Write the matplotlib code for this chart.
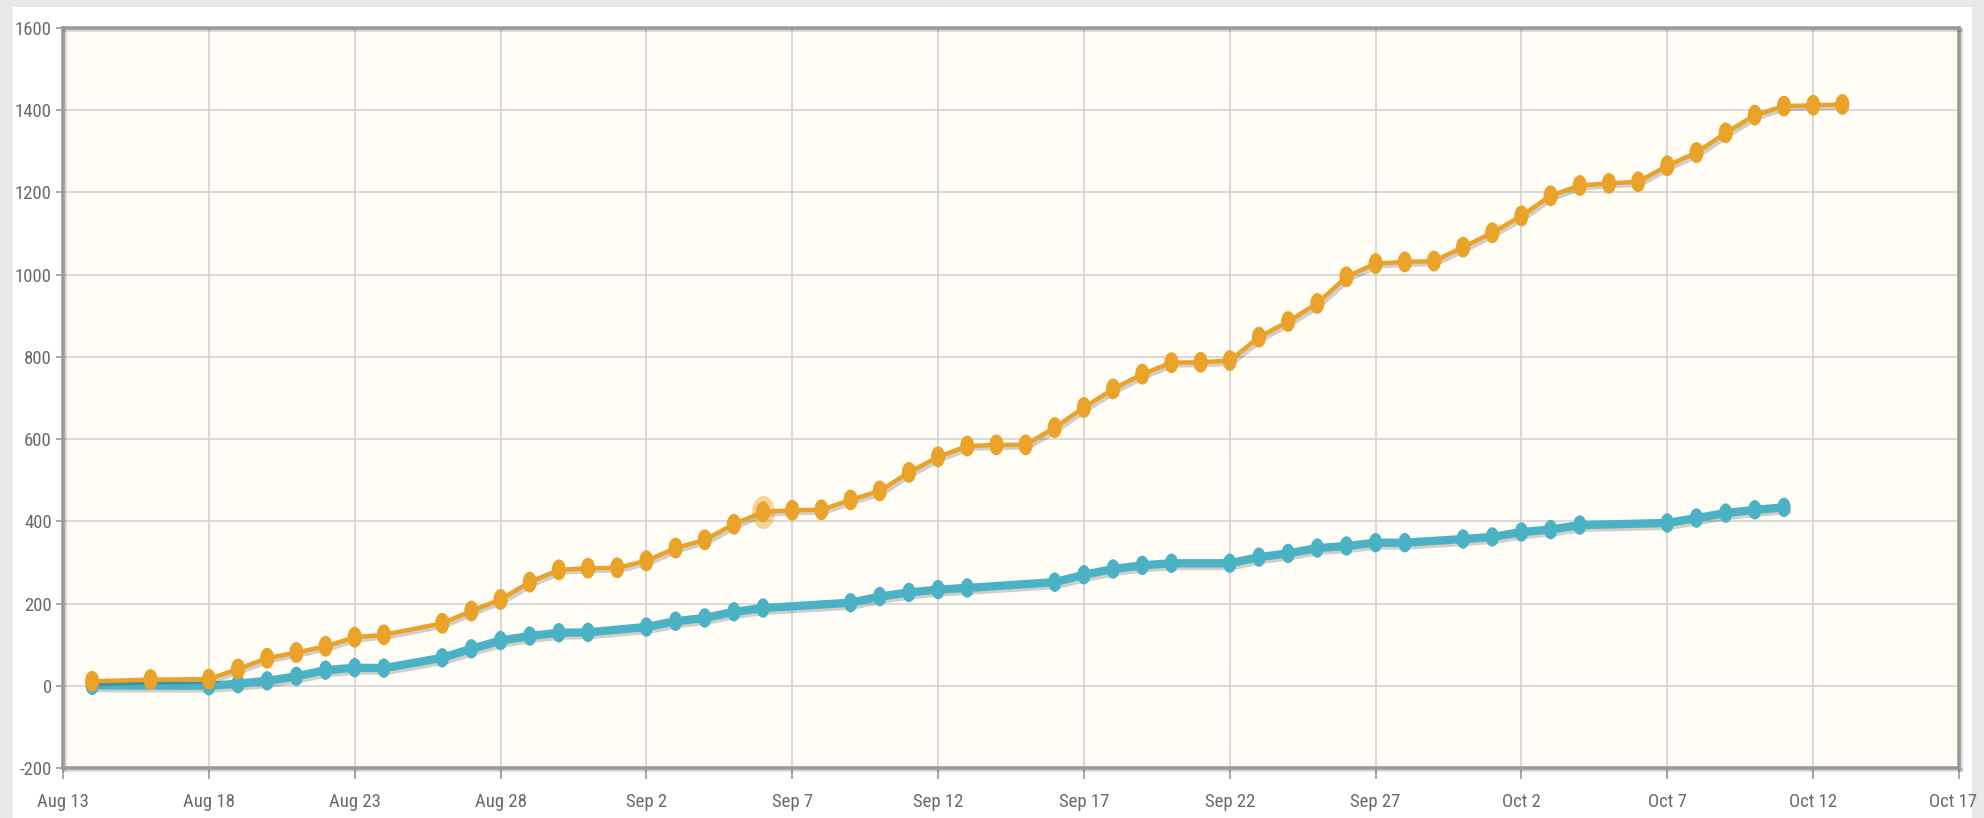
import matplotlib
matplotlib.use("Agg")
import matplotlib.pyplot as plt
import matplotlib.dates as mdates
import matplotlib.patheffects as pe
from matplotlib.path import Path
from matplotlib.patches import Rectangle
from matplotlib.transforms import Affine2D, ScaledTranslation
import numpy as np
import datetime as dt

YEAR = 2013

# ---------------- data ----------------
orange_dates = ["08-14", "08-16", "08-18", "08-19", "08-20", "08-21", "08-22", "08-23", "08-24",
                "08-26", "08-27", "08-28", "08-29", "08-30", "08-31",
                "09-01", "09-02", "09-03", "09-04", "09-05", "09-06", "09-07", "09-08", "09-09", "09-10",
                "09-11", "09-12", "09-13", "09-14", "09-15", "09-16", "09-17", "09-18", "09-19", "09-20",
                "09-21", "09-22", "09-23", "09-24", "09-25", "09-26", "09-27", "09-28", "09-29", "09-30",
                "10-01", "10-02", "10-03", "10-04", "10-05", "10-06", "10-07", "10-08", "10-09", "10-10",
                "10-11", "10-12", "10-13"]
orange_values = [11, 15, 16, 41, 67, 81, 96, 118, 124,
                 152, 182, 210, 252, 282, 286,
                 287, 304, 335, 355, 393, 423, 427, 428, 452, 474,
                 519, 557, 583, 586, 586, 628, 677, 722, 758, 786,
                 787, 791, 848, 886, 930, 995, 1027, 1031, 1033, 1067,
                 1102, 1143, 1192, 1217, 1222, 1226, 1265, 1297, 1345, 1388,
                 1410, 1412, 1414]

blue_dates = ["08-14", "08-18", "08-19", "08-20", "08-21", "08-22", "08-23", "08-24",
              "08-26", "08-27", "08-28", "08-29", "08-30", "08-31",
              "09-02", "09-03", "09-04", "09-05", "09-06", "09-09", "09-10", "09-11", "09-12", "09-13",
              "09-16", "09-17", "09-18", "09-19", "09-20", "09-22", "09-23", "09-24", "09-25", "09-26",
              "09-27", "09-28", "09-30",
              "10-01", "10-02", "10-03", "10-04", "10-07", "10-08", "10-09", "10-10", "10-11"]
blue_values = [1, 0, 5, 12, 23, 38, 44, 43,
               68, 90, 110, 121, 129, 130,
               143, 157, 165, 180, 189, 202, 217, 227, 234, 238,
               252, 270, 284, 293, 298, 298, 313, 322, 335, 340,
               348, 348, 357,
               362, 374, 380, 391, 396, 408, 420, 428, 434]

highlight_index = 20  # orange point on Sep 6

x_tick_dates = ["08-13", "08-18", "08-23", "08-28", "09-02", "09-07", "09-12", "09-17",
                "09-22", "09-27", "10-02", "10-07", "10-12", "10-17"]
x_tick_labels = ["Aug 13", "Aug 18", "Aug 23", "Aug 28", "Sep 2", "Sep 7", "Sep 12", "Sep 17",
                 "Sep 22", "Sep 27", "Oct 2", "Oct 7", "Oct 12", "Oct 17"]
y_ticks = [-200, 0, 200, 400, 600, 800, 1000, 1200, 1400, 1600]


def to_dt(s):
    m, d = s.split("-")
    return dt.datetime(YEAR, int(m), int(d))


od = [to_dt(s) for s in orange_dates]
bd = [to_dt(s) for s in blue_dates]
xt = [to_dt(s) for s in x_tick_dates]

# ---------------- style ----------------
plt.rcParams["font.family"] = ["Roboto Condensed", "Liberation Sans", "DejaVu Sans"]

W, H = 1984, 818
fig = plt.figure(figsize=(W / 100, H / 100), dpi=100, facecolor="#e9e9e9")
bg = Rectangle((13 / W, 0), (1972 - 13) / W, (H - 7) / H,
               transform=fig.transFigure, facecolor="white",
               edgecolor="none", zorder=-10)
fig.patches.append(bg)

ax = fig.add_axes([63 / W, 1 - 768 / H, (1959 - 63) / W, (768 - 28) / H])
ax.set_zorder(1)
ax.set_facecolor("#fffdf6")

# elliptical (tall) marker
circ = Path.unit_circle()
ell = Path(Affine2D().scale(0.68, 1.0).transform(circ.vertices), circ.codes)

shadow = [pe.SimpleLineShadow(offset=(2.0, -2.0), shadow_color="black", alpha=0.18),
          pe.Normal()]

ax.plot(bd, blue_values, color="#4bb2c5", lw=6.0, marker=ell, markersize=14,
        markeredgewidth=0, solid_joinstyle="round", path_effects=shadow, zorder=3,
        clip_on=False)
ax.plot(od, orange_values, color="#eaa228", lw=3.2, marker=ell, markersize=15,
        markeredgewidth=0, solid_joinstyle="round", path_effects=shadow, zorder=4,
        clip_on=False)
ax.plot([od[highlight_index]], [orange_values[highlight_index]], linestyle="none",
        marker=ell, markersize=24, markeredgewidth=0, color="#eaa228", alpha=0.45, zorder=5)

ax.set_xlim(xt[0], xt[-1])
ax.set_ylim(-200, 1600)
ax.set_xticks(mdates.date2num(xt))
ax.set_xticklabels(x_tick_labels)
ax.set_yticks(y_ticks)
ax.set_yticklabels([str(v) for v in y_ticks])

ax.grid(True, color="#cfcfcf", linewidth=1.1, zorder=1)
ax.set_axisbelow(True)

for s in ax.spines.values():
    s.set_color("#9a9a9a")
    s.set_linewidth(2.6)
    s.set_path_effects([pe.SimpleLineShadow(offset=(1.5, -1.5), shadow_color="black", alpha=0.15),
                        pe.Normal()])

ax.tick_params(axis="y", length=5, width=1.2, color="#999999", pad=3,
               labelsize=13.5, labelcolor="#6a6a6a")
ax.tick_params(axis="x", length=8, width=1.2, color="#999999", pad=10,
               labelsize=13.5, labelcolor="#6a6a6a")

# keep the last x label inside the figure
last = ax.get_xticklabels()[-1]
last.set_transform(last.get_transform() + ScaledTranslation(-6 / 100, 0, fig.dpi_scale_trans))

fig.savefig("out.png", dpi=100, facecolor=fig.get_facecolor())
